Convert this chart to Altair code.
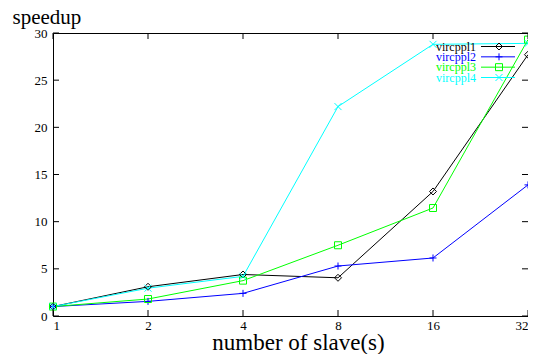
import altair as alt
import pandas as pd

# ---- data ----
slaves = [1, 2, 4, 8, 16, 32]
series_names = ["vircppl1", "vircppl2", "vircppl3", "vircppl4"]
vircppl1 = [1.0, 3.1, 4.4, 4.05, 13.2, 27.7]
vircppl2 = [1.0, 1.55, 2.4, 5.3, 6.15, 13.9]
vircppl3 = [1.0, 1.8, 3.75, 7.5, 11.45, 29.3]
vircppl4 = [1.0, 2.95, 4.2, 22.2, 28.8, 28.9]
y_ticks = [0, 5, 10, 15, 20, 25, 30]

colors = ["#000000", "#0000ff", "#00ff00", "#00ffff"]
shapes = [
    "M0,-1L1,0L0,1L-1,0Z",          # diamond
    "M-1,0H1M0,-1V1",               # plus
    "M-1,-1H1V1H-1Z",               # square
    "M-1,-1L1,1M-1,1L1,-1",         # cross
]

rows = []
for name, vals in zip(series_names, [vircppl1, vircppl2, vircppl3, vircppl4]):
    for x, v in zip(slaves, vals):
        rows.append({"x": x, "value": v, "series": name})
df = pd.DataFrame(rows)

W, H = 475, 283
FONT = "Liberation Serif"

color_enc = alt.Color("series:N", scale=alt.Scale(domain=series_names, range=colors), legend=None)
shape_enc = alt.Shape("series:N", scale=alt.Scale(domain=series_names, range=shapes), legend=None)

x_enc = alt.X(
    "x:Q",
    scale=alt.Scale(type="log", base=2, domain=[1, 32], nice=False),
    axis=alt.Axis(values=slaves, format="d", ticks=False, tickSize=0, domain=False, grid=False,
                  labelPadding=3, labelFontSize=13, labelFont=FONT, labelColor="black",
                  title="number of slave(s)", titleFont=FONT, titleFontSize=23,
                  titleFontWeight="normal", titleColor="black",
                  titleX=245, titleY=33, titleBaseline="alphabetic"),
)
y_enc = alt.Y(
    "value:Q",
    scale=alt.Scale(domain=[0, 30], nice=False),
    axis=alt.Axis(values=y_ticks, ticks=False, tickSize=0, domain=False, grid=False,
                  labelPadding=6, labelFontSize=13, labelFont=FONT, labelColor="black",
                  title="speedup", titleFont=FONT, titleFontSize=21, titleFontWeight="normal",
                  titleColor="black", titleAngle=0, titleAlign="left", titleBaseline="alphabetic",
                  titleX=-41, titleY=-10),
)

base = alt.Chart(df)
lines = base.mark_line(strokeWidth=1).encode(x=x_enc, y=y_enc, color=color_enc, order="x:Q", detail="series:N")
points = base.mark_point(filled=False, size=49, strokeWidth=1, opacity=1).encode(
    x=x_enc, y=y_enc, color=color_enc, shape=shape_enc
)

xt = pd.DataFrame({"x": slaves})
yt = pd.DataFrame({"value": y_ticks})
tick_style = dict(color="black", strokeWidth=1)
xt_bottom = alt.Chart(xt).mark_rule(**tick_style).encode(x=x_enc, y=alt.value(H), y2=alt.value(H - 6))
xt_top = alt.Chart(xt).mark_rule(**tick_style).encode(x=x_enc, y=alt.value(0), y2=alt.value(6))
yt_left = alt.Chart(yt).mark_rule(**tick_style).encode(y=y_enc, x=alt.value(0), x2=alt.value(6))
yt_right = alt.Chart(yt).mark_rule(**tick_style).encode(y=y_enc, x=alt.value(W), x2=alt.value(W - 6))

main = alt.layer(lines, points, xt_bottom, xt_top, yt_left, yt_right)

# ---- legend (top right, label left of sample) ----
leg = pd.DataFrame({"series": series_names})
leg_y = alt.Y("series:N", scale=alt.Scale(type="point", domain=series_names, range=[13.5, 44.5], padding=0), axis=None)
leg_text = alt.Chart(leg).mark_text(align="right", baseline="middle", font=FONT, fontSize=12).encode(
    x=alt.value(W - 52), y=leg_y, text="series:N", color=color_enc
)
leg_line = alt.Chart(leg).mark_rule(strokeWidth=1).encode(
    x=alt.value(W - 47), x2=alt.value(W - 13), y=leg_y, color=color_enc
)
leg_pt = alt.Chart(leg).mark_point(filled=False, size=49, strokeWidth=1, opacity=1).encode(
    x=alt.value(W - 29), y=leg_y, color=color_enc, shape=shape_enc
)
legend = alt.layer(leg_text, leg_line, leg_pt)

chart = alt.layer(main, legend).resolve_scale(y="independent").properties(
    width=W, height=H,
    autosize=alt.AutoSizeParams(type="none"),
    padding={"left": 45, "top": 25, "right": 0, "bottom": 38},
).configure(font=FONT).configure_view(stroke="black", strokeWidth=1)

chart.save("out.html", embed_options={"renderer": "svg", "actions": False})
